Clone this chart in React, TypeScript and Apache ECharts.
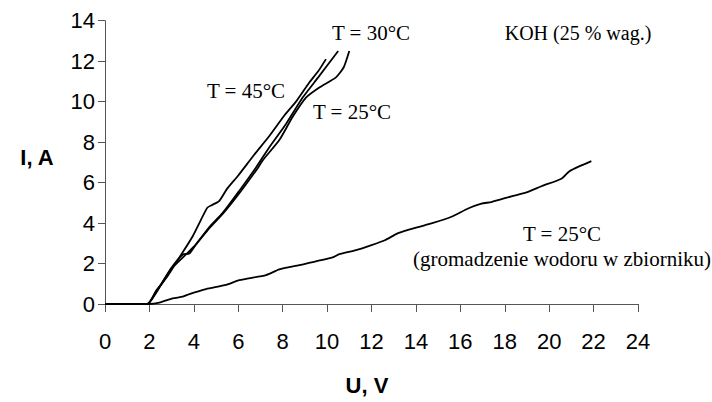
import React, { useEffect, useRef } from "react";
import * as echarts from "echarts";

// Current–voltage curves (U in V, I in A)
const curve45: [number, number][] = [
  [0, 0], [1.9, 0], [2.3, 0.65], [2.8, 1.35], [3.35, 2.3], [3.95, 3.35], [4.6, 4.75],
  [4.8, 4.88], [5.15, 5.1], [5.5, 5.7], [6.0, 6.35], [6.7, 7.35], [7.4, 8.3],
  [8.1, 9.35], [8.6, 10.0], [9.2, 10.95], [9.6, 11.5], [9.95, 12.1],
];
const curve30: [number, number][] = [
  [0, 0], [1.9, 0], [2.3, 0.6], [2.45, 0.85], [3.0, 1.8], [3.5, 2.45], [3.8, 2.5],
  [4.1, 2.95], [4.7, 3.8], [5.3, 4.5], [6.05, 5.6], [6.8, 6.75], [7.4, 7.75],
  [8.15, 8.9], [8.9, 10.2], [9.6, 11.2], [10.5, 12.5],
];
const curve25: [number, number][] = [
  [0, 0], [1.9, 0], [2.3, 0.55], [2.5, 0.9], [3.0, 1.75], [3.6, 2.4], [4.1, 2.95],
  [4.7, 3.75], [5.3, 4.45], [6.1, 5.55], [6.9, 6.75], [7.1, 7.1], [7.85, 8.1],
  [8.45, 9.25], [9.05, 10.2], [9.65, 10.7], [10.4, 11.2], [10.75, 11.7], [11.0, 12.5],
];
const curveTank: [number, number][] = [
  [0, 0], [2.0, 0], [2.45, 0.07], [3.05, 0.28], [3.5, 0.36], [3.8, 0.49], [4.55, 0.74],
  [5.45, 0.94], [6.05, 1.18], [7.25, 1.43], [7.85, 1.71], [8.75, 1.92], [10.25, 2.3],
  [10.55, 2.46], [11.3, 2.66], [12.0, 2.91], [12.6, 3.15], [13.2, 3.5], [14.1, 3.8],
  [14.7, 3.98], [15.6, 4.31], [16.35, 4.72], [16.95, 4.96], [17.4, 5.04], [18.3, 5.32],
  [19.05, 5.54], [19.65, 5.82], [20.55, 6.19], [20.9, 6.55], [21.35, 6.8], [21.9, 7.06],
];

const xTitle = "U, V";
const yTitle = "I, A";
const labels = [
  { text: "T = 30°C", x: 371, y: 33, align: "center", size: 21 },
  { text: "KOH (25 % wag.)", x: 578, y: 33, align: "center", size: 20 },
  { text: "T = 45°C", x: 246, y: 91, align: "center", size: 21 },
  { text: "T = 25°C", x: 352, y: 112, align: "center", size: 21 },
  { text: "T = 25°C", x: 562, y: 234, align: "center", size: 21 },
  { text: "(gromadzenie wodoru w zbiorniku)", x: 711, y: 259, align: "right", size: 21 },
];

const sansFont = "'Liberation Sans', Arial, sans-serif";
const serifFont = "'Liberation Serif', 'Times New Roman', serif";

export default function App() {
  const ref = useRef<HTMLDivElement>(null);
  useEffect(() => {
    if (!ref.current) return;
    const chart = echarts.init(ref.current, undefined, { renderer: "svg" });
    const mkSeries = (name: string, data: [number, number][]) => ({
      name,
      type: "line",
      data,
      showSymbol: false,
      symbol: "none",
      lineStyle: { color: "#000", width: 1.8 },
      smooth: 0.2,
    });
    chart.setOption({
      animation: false,
      backgroundColor: "#fff",
      grid: { left: 105, right: 74, top: 20.7, bottom: 98, containLabel: false },
      xAxis: {
        type: "value",
        min: 0,
        max: 24,
        interval: 2,
        axisLine: { show: true, lineStyle: { color: "#555", width: 1 } },
        axisTick: { show: true, inside: false, length: 8, lineStyle: { color: "#555" } },
        axisLabel: { color: "#000", fontSize: 22, fontFamily: sansFont, margin: 26 },
        splitLine: { show: false },
      },
      yAxis: {
        type: "value",
        min: 0,
        max: 14,
        interval: 2,
        axisLine: { show: true, onZero: false, lineStyle: { color: "#555", width: 1 } },
        axisTick: { show: true, inside: false, length: 7, lineStyle: { color: "#555" } },
        axisLabel: { color: "#000", fontSize: 22, fontFamily: sansFont, margin: 10 },
        splitLine: { show: false },
      },
      series: [
        mkSeries("T = 45°C", curve45),
        mkSeries("T = 30°C", curve30),
        mkSeries("T = 25°C", curve25),
        mkSeries("T = 25°C (zbiornik)", curveTank),
      ],
      graphic: [
        {
          type: "text",
          x: 37,
          y: 157,
          style: {
            text: yTitle,
            font: `bold 22px ${sansFont}`,
            fill: "#000",
            textAlign: "center",
            textVerticalAlign: "middle",
          },
        },
        {
          type: "text",
          x: 367,
          y: 385,
          style: {
            text: xTitle,
            font: `bold 22px ${sansFont}`,
            fill: "#000",
            textAlign: "center",
            textVerticalAlign: "middle",
          },
        },
        ...labels.map((l) => ({
          type: "text",
          x: l.x,
          y: l.y,
          style: {
            text: l.text,
            font: `${l.size}px ${serifFont}`,
            fill: "#000",
            textAlign: l.align,
            textVerticalAlign: "middle",
          },
        })),
      ],
    });
    return () => chart.dispose();
  }, []);
  return <div ref={ref} style={{ width: 712, height: 402, position: "absolute", left: 0, top: 0 }} />;
}
